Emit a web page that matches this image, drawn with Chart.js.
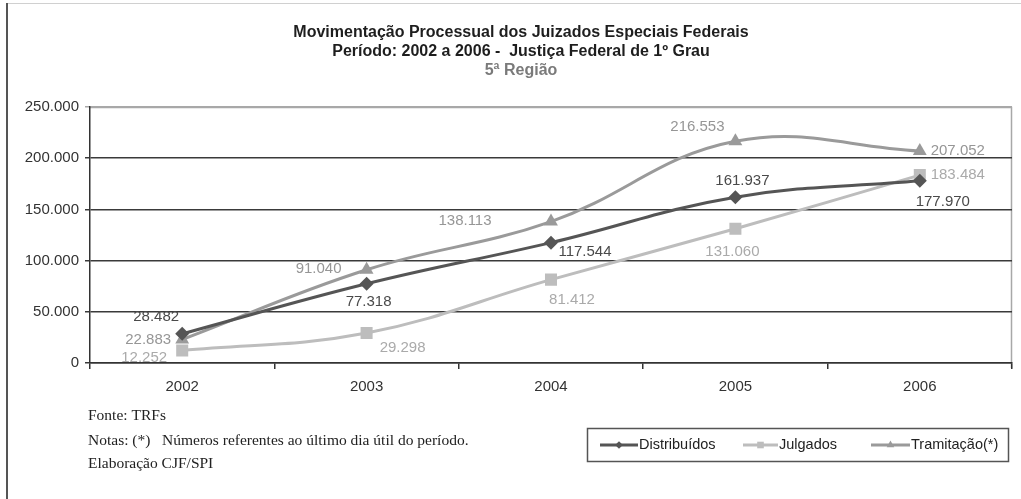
<!DOCTYPE html>
<html>
<head>
<meta charset="utf-8">
<script src="https://cdn.jsdelivr.net/npm/chart.js@4/dist/chart.umd.min.js"></script>
<style>
  html, body { margin: 0; padding: 0; background: #fff; }
  #wrap { width: 1021px; height: 499px; position: relative; }
</style>
</head>
<body>
<div id="wrap"><canvas id="chart-line"></canvas></div>
<script>
// dados do gráfico
var anos = ["2002", "2003", "2004", "2005", "2006"];
var distribuidos = [28482, 77318, 117544, 161937, 177970];
var julgados = [12252, 29298, 81412, 131060, 183484];
var tramitacao = [22883, 91040, 138113, 216553, 207052];
var yTicks = [0, 50000, 100000, 150000, 200000, 250000];

var titulo = [
    "Movimentação Processual dos Juizados Especiais Federais",
    "Período: 2002 a 2006 -  Justiça Federal de 1º Grau"
];
var subtitulo = "5ª Região";
var notas = [
    "Fonte: TRFs",
    "Notas: (*)   Números referentes ao último dia útil do período.",
    "Elaboração CJF/SPI"
];

function fmt(v) {
    return String(v).replace(/\B(?=(\d{3})+(?!\d))/g, '.');
}

// deslocamento dos rótulos em relação ao ponto
var labelOffsets = [
    [[-26, -17], [2, 18], [34, 9], [7, -16], [23, 21]],
    [[-38, 7], [36, 15], [21, 20], [-3, 23], [38, 0]],
    [[-34, 0], [-48, -1], [-86, -1], [-38, -14], [38, 0]]
];
var labelColors = ['#4a4a4a', '#aaaaaa', '#969696'];

var decoracao = {
    id: 'decoracao',
    beforeDraw: function (chart) {
        var c = chart.ctx;
        var a = chart.chartArea;
        c.save();
        // moldura externa
        c.strokeStyle = '#d0d0d0';
        c.lineWidth = 1;
        c.beginPath();
        c.moveTo(7, 3.5);
        c.lineTo(1021, 3.5);
        c.stroke();
        c.strokeStyle = '#555';
        c.lineWidth = 2;
        c.beginPath();
        c.moveTo(7, 3);
        c.lineTo(7, 499);
        c.stroke();
        // borda superior e direita da área do gráfico
        c.strokeStyle = '#a8a8a8';
        c.lineWidth = 1.5;
        c.beginPath();
        c.moveTo(a.left, a.top + 0.5);
        c.lineTo(a.right - 0.5, a.top + 0.5);
        c.lineTo(a.right - 0.5, a.bottom + 5);
        c.stroke();
        c.restore();
    },
    afterDraw: function (chart) {
        var c = chart.ctx;
        c.save();
        c.textAlign = 'center';
        c.textBaseline = 'middle';
        c.font = 'bold 16px "Liberation Sans", Arial, sans-serif';
        c.fillStyle = '#1e1e1e';
        c.fillText(titulo[0], 521, 33);
        c.fillText(titulo[1], 521, 52);
        c.fillStyle = '#7a7a7a';
        c.fillText(subtitulo, 521, 71);

        // notas
        c.textAlign = 'left';
        c.font = '15.5px "Liberation Serif", "Times New Roman", serif';
        c.fillStyle = '#222';
        c.fillText(notas[0], 88, 416);
        c.fillText(notas[1], 88, 441);
        c.fillText(notas[2], 88, 464);

        // legenda
        c.strokeStyle = '#555';
        c.lineWidth = 1.5;
        c.strokeRect(587.5, 428.5, 421, 33);
        var itens = [
            { x1: 600, x2: 638, ds: 0 },
            { x1: 743, x2: 778, ds: 1 },
            { x1: 871, x2: 910, ds: 2 }
        ];
        c.font = '14.5px "Liberation Sans", Arial, sans-serif';
        itens.forEach(function (it) {
            var ds = chart.data.datasets[it.ds];
            var y = 445;
            c.strokeStyle = ds.borderColor;
            c.lineWidth = 3;
            c.beginPath();
            c.moveTo(it.x1, y);
            c.lineTo(it.x2, y);
            c.stroke();
            c.fillStyle = ds.borderColor;
            Chart.helpers.drawPoint(c, {
                pointStyle: ds.pointStyle,
                radius: ds.pointRadius * 0.55,
                borderWidth: 0
            }, (it.x1 + it.x2) / 2, y);
            c.fillStyle = '#222';
            c.textAlign = 'left';
            c.fillText(ds.label, it.x2 + 1, y);
        });
        c.restore();
    },
    afterDatasetsDraw: function (chart) {
        var c = chart.ctx;
        c.save();
        c.font = '15px "Liberation Sans", Arial, sans-serif';
        c.textAlign = 'center';
        c.textBaseline = 'middle';
        chart.data.datasets.forEach(function (ds, i) {
            var meta = chart.getDatasetMeta(i);
            c.fillStyle = labelColors[i];
            meta.data.forEach(function (pt, j) {
                var off = labelOffsets[i][j];
                c.fillText(fmt(ds.data[j]), pt.x + off[0], pt.y + off[1]);
            });
        });
        c.restore();
    }
};

var ctx2 = document.getElementById("chart-line").getContext("2d");

new Chart(ctx2, {
    type: "line",
    data: {
        labels: anos,
        datasets: [{
            label: "Distribuídos",
            data: distribuidos,
            borderColor: "#555555",
            backgroundColor: "#555555",
            borderWidth: 3,
            tension: 0.4,
            pointStyle: 'rectRot',
            pointRadius: 7,
            pointBorderWidth: 0,
            fill: false
        },
        {
            label: "Julgados",
            data: julgados,
            borderColor: "#bdbdbd",
            backgroundColor: "#bdbdbd",
            borderWidth: 3,
            tension: 0.4,
            pointStyle: 'rect',
            pointRadius: 8.5,
            pointBorderWidth: 0,
            fill: false
        },
        {
            label: "Tramitação(*)",
            data: tramitacao,
            borderColor: "#9a9a9a",
            backgroundColor: "#9a9a9a",
            borderWidth: 3,
            tension: 0.4,
            pointStyle: 'triangle',
            pointRadius: 8,
            pointBorderWidth: 0,
            fill: false
        }]
    },
    options: {
        responsive: true,
        maintainAspectRatio: false,
        animation: false,
        layout: {
            padding: { left: 8, right: 9, top: 107, bottom: 100 }
        },
        plugins: {
            legend: { display: false },
            title: { display: false },
            tooltip: { enabled: false }
        },
        scales: {
            y: {
                min: 0,
                max: 250000,
                afterFit: function (scale) { scale.width = 82; },
                afterBuildTicks: function (scale) {
                    scale.ticks = yTicks.map(function (v) { return { value: v }; });
                },
                border: { display: true, color: '#333', width: 1.5 },
                grid: {
                    color: function (ctx) {
                        return ctx.tick && ctx.tick.value === 250000 ? '#a8a8a8' : '#3a3a3a';
                    },
                    lineWidth: 1.5,
                    drawTicks: true,
                    tickLength: 5
                },
                ticks: {
                    padding: 6,
                    color: '#333',
                    font: { size: 15, family: "Liberation Sans" },
                    callback: function (v) { return fmt(v); }
                }
            },
            x: {
                offset: true,
                afterFit: function (scale) { scale.height = 36; },
                border: { display: true, color: '#333', width: 1.5 },
                grid: {
                    offset: true,
                    drawOnChartArea: false,
                    drawTicks: true,
                    tickLength: 6,
                    color: '#333',
                    lineWidth: 1.5
                },
                ticks: {
                    padding: 9,
                    color: '#333',
                    font: { size: 15, family: "Liberation Sans" }
                }
            }
        }
    },
    plugins: [decoracao]
});
</script>
</body>
</html>
